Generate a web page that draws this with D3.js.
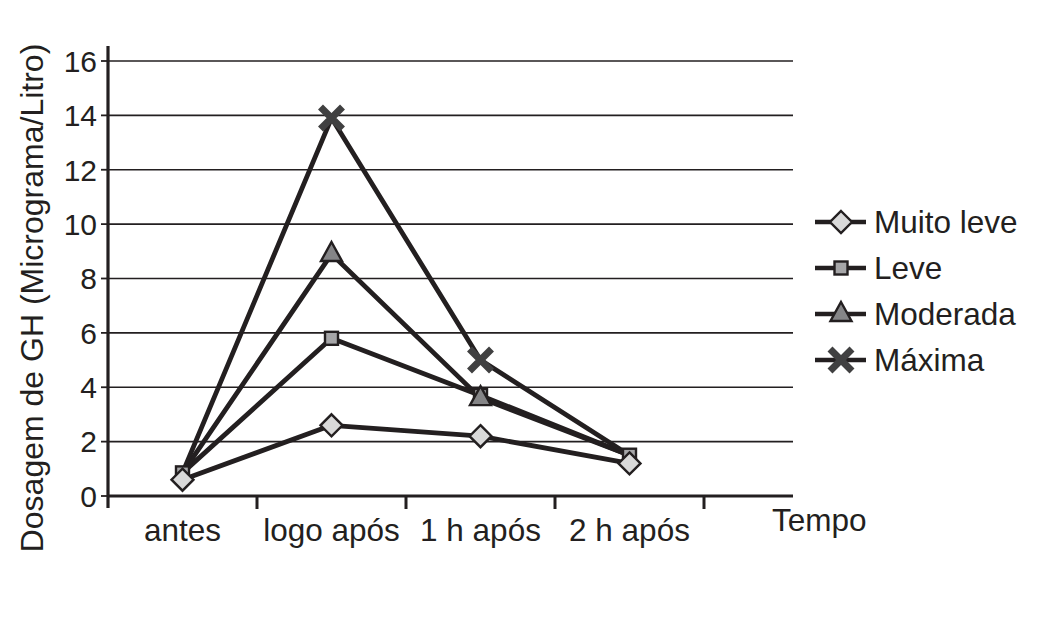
<!DOCTYPE html>
<html>
<head>
<meta charset="utf-8">
<script src="https://cdn.jsdelivr.net/npm/d3@7"></script>
<style>
  body { margin: 0; background: #fff; }
  text { font-family: "Liberation Sans", Arial, sans-serif; fill: #231f20; }
</style>
</head>
<body>
<div id="chart"></div>
<script>
// categories (last band is empty, as in the original)
var categories = ["antes", "logo após", "1 h após", "2 h após", ""];
var yTicks = [0, 2, 4, 6, 8, 10, 12, 14, 16];

// series values
var seriesNames = ["Muito leve", "Leve", "Moderada", "Máxima"];
var muitoLeve = [0.6, 2.6, 2.2, 1.2];
var leve = [0.85, 5.8, 3.7, 1.5];
var moderada = [0.85, 8.9, 3.6, 1.5];
var maxima = [0.85, 13.9, 5.0, 1.5];

var seriesValues = [muitoLeve, leve, moderada, maxima];
var markerTypes = ["diamond", "square", "triangle", "cross"];
// the original only shows the triangle / cross markers at the middle points
var markerPoints = [[0, 1, 2, 3], [0, 1, 2, 3], [1, 2], [1, 2]];

var ink = "#231f20";

var width = 1051, height = 621;
var svg = d3.select("#chart").append("svg")
    .attr("width", width)
    .attr("height", height);

// scales
var x = d3.scaleBand().domain(categories).range([108, 853]).padding(0);
var y = d3.scaleLinear().domain([0, 16]).range([496, 61]);
var axisRight = 793;

// grid lines
svg.append("g").selectAll("line")
    .data(yTicks.filter(function (d) { return d > 0; }))
    .enter().append("line")
    .attr("x1", x.range()[0])
    .attr("x2", axisRight)
    .attr("y1", function (d) { return y(d); })
    .attr("y2", function (d) { return y(d); })
    .attr("stroke", ink)
    .attr("stroke-width", 1.6);

// y axis
var yAxis = svg.append("g");
yAxis.append("line")
    .attr("x1", x.range()[0]).attr("x2", x.range()[0])
    .attr("y1", 46).attr("y2", 508)
    .attr("stroke", ink).attr("stroke-width", 3.2);
yAxis.selectAll(".ytick")
    .data(yTicks)
    .enter().append("line")
    .attr("x1", x.range()[0] - 7).attr("x2", x.range()[0])
    .attr("y1", function (d) { return y(d); })
    .attr("y2", function (d) { return y(d); })
    .attr("stroke", ink).attr("stroke-width", 1.8);
yAxis.selectAll(".ylab")
    .data(yTicks)
    .enter().append("text")
    .attr("x", 97)
    .attr("y", function (d) { return y(d); })
    .attr("dy", "0.36em")
    .attr("text-anchor", "end")
    .style("font-size", "30px")
    .text(function (d) { return d; });

// x axis
var xAxis = svg.append("g");
xAxis.append("line")
    .attr("x1", x.range()[0]).attr("x2", axisRight)
    .attr("y1", y(0)).attr("y2", y(0))
    .attr("stroke", ink).attr("stroke-width", 3.2);
xAxis.selectAll(".xtick")
    .data(categories.slice(1))
    .enter().append("line")
    .attr("x1", function (d) { return x(d); })
    .attr("x2", function (d) { return x(d); })
    .attr("y1", y(0)).attr("y2", y(0) + 13)
    .attr("stroke", ink).attr("stroke-width", 3);
xAxis.selectAll(".xlab")
    .data(categories.filter(function (d) { return d !== ""; }))
    .enter().append("text")
    .attr("x", function (d) { return x(d) + x.bandwidth() / 2; })
    .attr("y", 541)
    .attr("text-anchor", "middle")
    .style("font-size", "31.5px")
    .text(function (d) { return d; });
xAxis.append("text")
    .attr("x", 772).attr("y", 531)
    .style("font-size", "31.5px")
    .text("Tempo");

// y axis title
svg.append("text")
    .attr("transform", "translate(43,298) rotate(-90)")
    .attr("text-anchor", "middle")
    .style("font-size", "32px")
    .text("Dosagem de GH (Micrograma/Litro)");

// marker drawing
function drawMarker(g, type) {
    if (type === "diamond") {
        g.append("path")
            .attr("d", "M0,-11L11,0L0,11L-11,0Z")
            .attr("fill", "#d9d9d9").attr("stroke", ink).attr("stroke-width", 2.4);
    } else if (type === "square") {
        g.append("rect")
            .attr("x", -6.5).attr("y", -6.5).attr("width", 13).attr("height", 13)
            .attr("fill", "#a6a6a8").attr("stroke", ink).attr("stroke-width", 2.4);
    } else if (type === "triangle") {
        g.append("path")
            .attr("d", "M0,-12L10.5,7L-10.5,7Z")
            .attr("fill", "#858587").attr("stroke", ink).attr("stroke-width", 2.4);
    } else {
        g.append("path")
            .attr("d", "M-11,-11L11,11M-11,11L11,-11")
            .attr("stroke", "#404041").attr("stroke-width", 7).attr("fill", "none");
    }
}

var line = d3.line()
    .x(function (d, i) { return x(categories[i]) + x.bandwidth() / 2; })
    .y(function (d) { return y(d); });

// lines
svg.append("g").selectAll("path")
    .data(seriesValues)
    .enter().append("path")
    .attr("d", line)
    .attr("fill", "none")
    .attr("stroke", ink)
    .attr("stroke-width", 4.8)
    .attr("stroke-linejoin", "round");

// markers (drawn so the diamond sits on top)
var order = [3, 1, 2, 0];
order.forEach(function (s) {
    markerPoints[s].forEach(function (i) {
        var v = seriesValues[s][i];
        var g = svg.append("g")
            .attr("transform", "translate(" + (x(categories[i]) + x.bandwidth() / 2) + "," + y(v) + ")");
        drawMarker(g, markerTypes[s]);
    });
});

// legend
var legend = svg.append("g");
seriesNames.forEach(function (name, i) {
    var ly = 222 + i * 46;
    legend.append("line")
        .attr("x1", 815).attr("x2", 866)
        .attr("y1", ly).attr("y2", ly)
        .attr("stroke", ink).attr("stroke-width", 4.5);
    var g = legend.append("g").attr("transform", "translate(841," + ly + ")");
    drawMarker(g, markerTypes[i]);
    legend.append("text")
        .attr("x", 874).attr("y", ly)
        .attr("dy", "0.36em")
        .style("font-size", "31.5px")
        .text(name);
});
</script>
</body>
</html>
